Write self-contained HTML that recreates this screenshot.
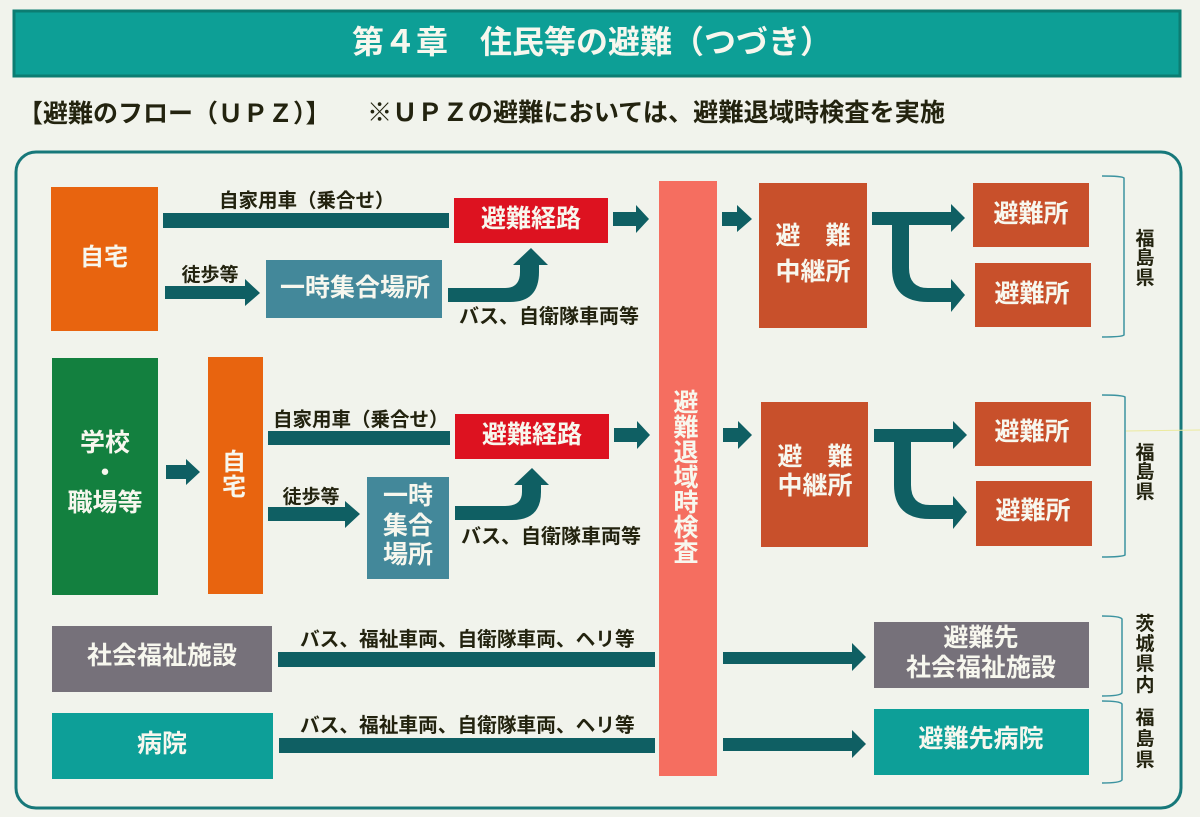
<!DOCTYPE html>
<html lang="ja"><head><meta charset="utf-8"><style>
html,body{margin:0;padding:0;background:#f1f3ec}
svg{display:block}
text{font-family:"Liberation Sans","Noto Sans CJK JP",sans-serif;font-weight:700}
.w{fill:#f7f7ee;text-anchor:middle}
.k{fill:#23230f;text-anchor:middle}
.s{fill:#23230f}
.a{fill:#0f5f63}
.b{fill:none;stroke:#3c93a0;stroke-width:1.5}
</style></head><body>
<svg width="1200" height="817" viewBox="0 0 1200 817" xmlns="http://www.w3.org/2000/svg">
<rect width="1200" height="817" fill="#f1f3ec"/>
<rect x="14" y="11" width="1166" height="65" fill="#0d9f96" stroke="#0c7d72" stroke-width="3"/>
<text x="352" y="53" fill="#f7f7ee" font-size="32">第４章　住民等の避難（つづき）</text>
<text x="18" y="122" font-size="25" class="s">【避難のフロー（ＵＰＺ）】</text>
<text x="367" y="121" font-size="25.2" class="s">※ＵＰＺの避難においては、避難退域時検査を実施</text>
<rect x="16" y="152" width="1165" height="656" rx="20" fill="none" stroke="#17787a" stroke-width="3"/>

<!-- left boxes -->
<rect x="51" y="187" width="107" height="144" fill="#e8640f"/>
<text x="104" y="265" class="w" font-size="24">自宅</text>
<rect x="52" y="358" width="106" height="237" fill="#13803f"/>
<text x="105" y="451" class="w" font-size="25">学校</text>
<text x="105" y="481" class="w" font-size="25">・</text>
<text x="105" y="511" class="w" font-size="25">職場等</text>
<rect x="208" y="357" width="55" height="237" fill="#e8640f"/>
<text x="234" y="470" class="w" font-size="24">自</text>
<text x="234" y="495" class="w" font-size="24">宅</text>
<rect x="52" y="626" width="220" height="66" fill="#76717a"/>
<text x="162" y="664" class="w" font-size="25">社会福祉施設</text>
<rect x="52" y="713" width="221" height="66" fill="#0d9f98"/>
<text x="162" y="752" class="w" font-size="25">病院</text>

<!-- top row -->
<rect x="163" y="213" width="286" height="15" class="a"/>
<text x="219" y="207" class="s" font-size="19.5">自家用車（乗合せ）</text>
<rect x="454" y="198" width="154" height="45" fill="#dd1220"/>
<text x="531" y="227" class="w" font-size="25">避難経路</text>
<polygon class="a" points="613,212 636,212 636,205 649,219 636,233 636,226 613,226"/>
<polygon class="a" points="165,286 245,286 245,279 260,293 245,306 245,299 165,299"/>
<text x="210" y="281" class="k" font-size="19">徒歩等</text>
<rect x="266" y="260" width="176" height="58" fill="#43889a"/>
<text x="355" y="296" class="w" font-size="25">一時集合場所</text>
<path class="a" d="M448,288 H505 Q520,288 520,272 V265 H513 L531,248 L548,265 H539 V272 Q539,302 510,302 H448 Z"/>
<text x="459" y="323" class="s" font-size="20">バス、自衛隊車両等</text>

<!-- second row -->
<rect x="268" y="431" width="182" height="14" class="a"/>
<text x="273" y="426" class="s" font-size="19.5">自家用車（乗合せ）</text>
<rect x="455" y="414" width="154" height="45" fill="#dd1220"/>
<text x="532" y="443" class="w" font-size="25">避難経路</text>
<polygon class="a" points="614,428 637,428 637,421 650,435 637,449 637,442 614,442"/>
<polygon class="a" points="166,465 186,465 186,459 200,472 186,485 186,479 166,479"/>
<polygon class="a" points="268,507 345,507 345,501 360,514 345,528 345,521 268,521"/>
<text x="311" y="503" class="k" font-size="19">徒歩等</text>
<rect x="367" y="477" width="82" height="102" fill="#43889a"/>
<text x="408" y="504" class="w" font-size="25">一時</text>
<text x="408" y="534" class="w" font-size="25">集合</text>
<text x="408" y="563" class="w" font-size="25">場所</text>
<path class="a" d="M455,506 H505 Q522,506 522,492 V485 H514 L532,468 L549,485 H541 V492 Q541,520 512,520 H455 Z"/>
<text x="461" y="543" class="s" font-size="20">バス、自衛隊車両等</text>

<!-- centre column -->
<rect x="659" y="181" width="58" height="595" fill="#f56e60"/>
<g class="w" font-size="25">
<text x="686" y="411">避</text><text x="686" y="436">難</text><text x="686" y="461">退</text><text x="686" y="486">域</text><text x="686" y="511">時</text><text x="686" y="536">検</text><text x="686" y="561">査</text>
</g>

<!-- right top -->
<polygon class="a" points="722,212 737,212 737,205 752,219 737,232 737,226 722,226"/>
<rect x="759" y="183" width="108" height="145" fill="#c8502b"/>
<text x="813" y="244" class="w" font-size="25">避　難</text>
<text x="813" y="280" class="w" font-size="25">中継所</text>
<path class="a" d="M872,212 H951 V204 L965,218 L951,232 V225 H909 V268 Q909,288 928,288 H951 V279 L965,295 L951,312 V302 H928 Q892,302 892,268 V225 H872 Z"/>
<rect x="973" y="183" width="116" height="64" fill="#c8502b"/>
<text x="1031" y="222" class="w" font-size="25">避難所</text>
<rect x="975" y="263" width="116" height="64" fill="#c8502b"/>
<text x="1032" y="302" class="w" font-size="25">避難所</text>
<path class="b" d="M1102,176 Q1122,176 1124,178 V335 Q1122,337 1102,337"/>
<text x="1145" y="245" class="k" font-size="19">福</text>
<text x="1145" y="264" class="k" font-size="19">島</text>
<text x="1145" y="284" class="k" font-size="19">県</text>

<!-- right second -->
<polygon class="a" points="723,428 738,428 738,421 752,435 738,449 738,442 723,442"/>
<rect x="761" y="402" width="107" height="145" fill="#c8502b"/>
<text x="815" y="465" class="w" font-size="25">避　難</text>
<text x="815" y="494" class="w" font-size="25">中継所</text>
<path class="a" transform="translate(2,217)" d="M872,212 H951 V204 L965,218 L951,232 V225 H909 V268 Q909,288 928,288 H951 V279 L965,295 L951,312 V302 H928 Q892,302 892,268 V225 H872 Z"/>
<rect x="975" y="402" width="116" height="64" fill="#c8502b"/>
<text x="1032" y="440" class="w" font-size="25">避難所</text>
<rect x="976" y="481" width="116" height="65" fill="#c8502b"/>
<text x="1033" y="519" class="w" font-size="25">避難所</text>
<path class="b" d="M1102,395 Q1122,395 1125,397 V555 Q1122,557 1102,557"/>
<text x="1145" y="459" class="k" font-size="19">福</text>
<text x="1145" y="478" class="k" font-size="19">島</text>
<text x="1145" y="498" class="k" font-size="19">県</text>
<line x1="1126" y1="431" x2="1200" y2="430" stroke="#ecea9e" stroke-width="1"/>

<!-- bottom rows -->
<rect x="278" y="652" width="377" height="15" class="a"/>
<text x="300" y="646" class="s" font-size="19.7">バス、福祉車両、自衛隊車両、ヘリ等</text>
<polygon class="a" points="723,652 852,652 852,643 866,657 852,671 852,664 723,664"/>
<rect x="874" y="622" width="215" height="66" fill="#76717a"/>
<text x="981" y="646" class="w" font-size="25">避難先</text>
<text x="981" y="676" class="w" font-size="25">社会福祉施設</text>
<path class="b" d="M1102,616 Q1120,616 1122,619 V693 Q1120,696 1102,696"/>
<g class="k" font-size="19">
<text x="1145" y="630">茨</text><text x="1145" y="650">城</text><text x="1145" y="670">県</text><text x="1145" y="691">内</text>
</g>
<rect x="279" y="738" width="376" height="15" class="a"/>
<text x="300" y="732" class="s" font-size="19.7">バス、福祉車両、自衛隊車両、ヘリ等</text>
<polygon class="a" points="723,738 852,738 852,730 866,744 852,758 852,751 723,751"/>
<rect x="874" y="709" width="215" height="66" fill="#0d9f98"/>
<text x="981" y="747" class="w" font-size="25">避難先病院</text>
<path class="b" d="M1102,701 Q1120,701 1122,704 V780 Q1120,783 1102,783"/>
<g class="k" font-size="19">
<text x="1145" y="724">福</text><text x="1145" y="745">島</text><text x="1145" y="766">県</text>
</g>
</svg>
</body></html>
